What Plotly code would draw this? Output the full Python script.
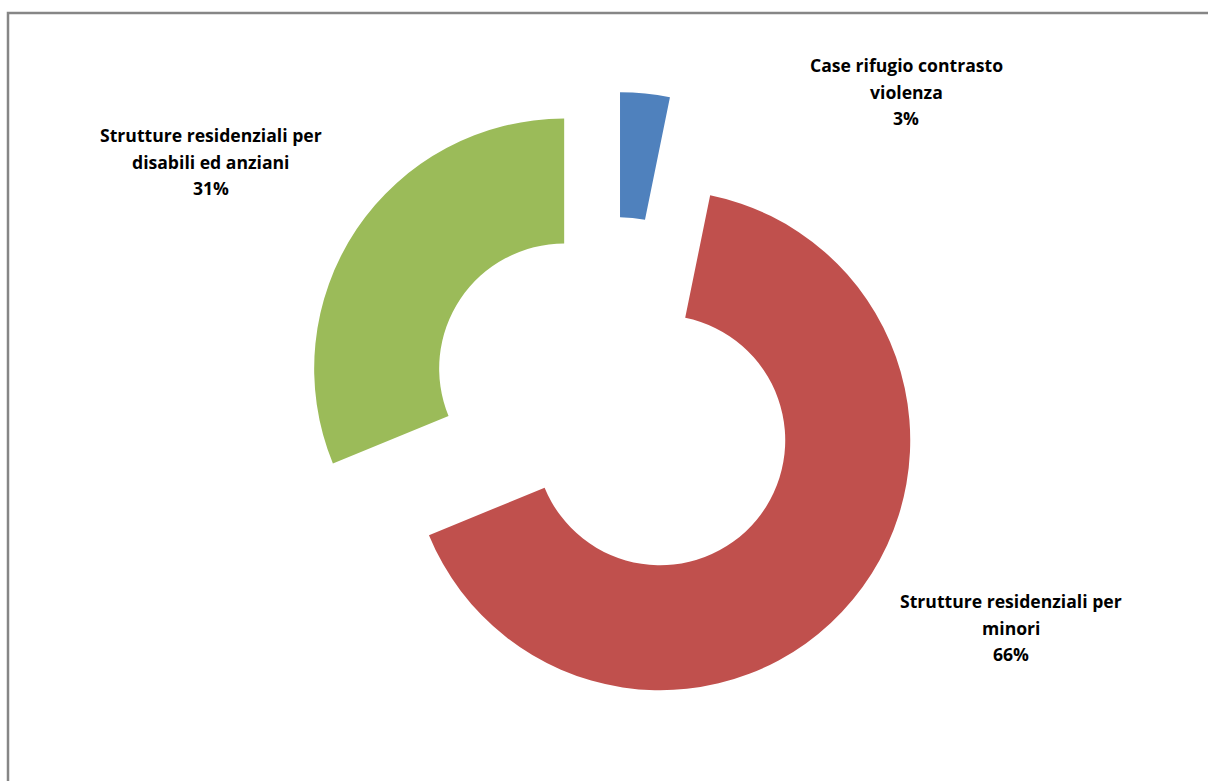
import plotly.graph_objects as go

labels = ["Case rifugio contrasto violenza",
          "Strutture residenziali per minori",
          "Strutture residenziali per disabili ed anziani"]
values = [3.2, 65.6, 31.2]
label_lines = [["Case rifugio contrasto", "violenza"],
               ["Strutture residenziali per", "minori"],
               ["Strutture residenziali per", "disabili ed anziani"]]
colors = ["#4F81BD", "#C0504D", "#9BBB59"]

W, H = 1208, 781
L, R, T, B = 20, 0, 92, 69
pw, ph = W - L - R, H - T - B


def px(x):
    return (x - L) / pw


def py(y):
    return 1 - (y - T) / ph


fig = go.Figure(go.Pie(
    labels=labels, values=values, hole=0.5, sort=False,
    direction="clockwise", rotation=0, pull=[0.24, 0.24, 0.24],
    marker=dict(colors=colors, line=dict(width=0)),
    textinfo="none", hoverinfo="label+percent", showlegend=False,
))

total = sum(values)
label_pos = [(906, 65), (1011, 601), (211, 135)]
font = dict(family="Open Sans, Liberation Sans, Arial, sans-serif",
            size=17.6, color="#000000")
annotations = []
for lines, v, (cx, cy) in zip(label_lines, values, label_pos):
    all_lines = lines + [f"{round(v / total * 100)}%"]
    for k, line in enumerate(all_lines):
        annotations.append(dict(
            x=px(cx), y=py(cy + 26.5 * k), xref="paper", yref="paper",
            text=f"<b>{line}</b>", showarrow=False, xanchor="center",
            yanchor="middle", font=font))

fig.update_layout(
    width=W, height=H,
    margin=dict(l=L, r=R, t=T, b=B),
    paper_bgcolor="white", plot_bgcolor="white",
    annotations=annotations,
    shapes=[dict(type="rect", xref="paper", yref="paper",
                 x0=px(8), x1=px(1230), y0=py(800), y1=py(13),
                 line=dict(color="#868686", width=2.5), layer="below")],
)

fig.write_html("out.html")
